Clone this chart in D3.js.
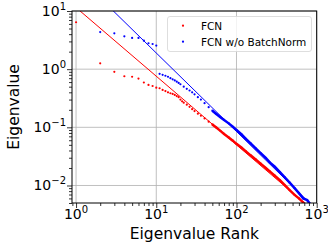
<!DOCTYPE html>
<html>
<head>
<meta charset="utf-8">
<script src="https://cdn.jsdelivr.net/npm/d3@7"></script>
<style>
  body { margin: 0; background: #fff; }
  text { font-family: "DejaVu Sans", sans-serif; fill: #000; }
</style>
</head>
<body>
<div class="canvas"></div>
<script>
// eigenvalue spectra (rank -> eigenvalue)
const fcnRank = [1, 2, 3, 4, 5, 6, 7, 8, 9, 10, 11, 12, 13, 14, 15, 16, 17, 18, 19, 20,
  21, 22, 24, 26, 28, 30, 33, 36, 40, 45, 50, 56, 63, 70, 80, 90, 100, 115, 130, 150,
  175, 200, 230, 260, 300, 350, 400, 460, 530, 600, 680, 760, 850];
const fcnValue = [6.4, 1.26, 0.9, 0.755, 0.74, 0.69, 0.59, 0.535, 0.514, 0.48, 0.47, 0.44, 0.42, 0.4, 0.385, 0.375, 0.36, 0.345, 0.33, 0.3,
  0.28, 0.265, 0.245, 0.225, 0.205, 0.19, 0.172, 0.158, 0.142, 0.125, 0.112, 0.099, 0.087, 0.077, 0.067, 0.059, 0.052, 0.045, 0.039, 0.033,
  0.0278, 0.0238, 0.0202, 0.0175, 0.0148, 0.0122, 0.0101, 0.0083, 0.0069, 0.006, 0.0051, 0.0042, 0.0034];

const noBnRank = [1, 2, 3, 4, 5, 6, 7, 8, 9, 10, 11, 12, 13, 14, 15, 16, 17, 18, 19, 20,
  22, 24, 26, 28, 30, 33, 36, 40, 45, 50, 56, 63, 70, 80, 90, 100, 115, 130, 150,
  175, 200, 230, 260, 300, 350, 400, 460, 530, 600, 680, 760, 850];
const noBnValue = [18, 4.35, 4.14, 3.67, 3.44, 3.44, 3.09, 2.79, 2.71, 2.54, 0.83, 0.8, 0.77, 0.74, 0.7, 0.67, 0.64, 0.61, 0.58, 0.55,
  0.5, 0.46, 0.43, 0.4, 0.37, 0.33, 0.3, 0.26, 0.222, 0.193, 0.17, 0.149, 0.134, 0.117, 0.102, 0.09, 0.076, 0.064, 0.053,
  0.043, 0.036, 0.03, 0.025, 0.021, 0.0168, 0.0138, 0.0112, 0.009, 0.0074, 0.006, 0.0056, 0.0046];

// power-law fit lines, given by their end points
const fitRank = [1, 1000];
const fcnFit = [11.46, 0.0033];
const noBnFit = [42.4, 0.0038];

const xTickValues = [1, 10, 100, 1000];
const yTickValues = [0.01, 0.1, 1, 10];
const seriesNames = ['FCN', 'FCN w/o BatchNorm'];
const seriesColors = ['#ff0000', '#0000ff'];

const dims = { width: 328, height: 248 };
const plot = { left: 72, top: 11, right: 316.7, bottom: 203 };

const svg = d3
  .select('.canvas')
  .append('svg')
  .attr('width', dims.width)
  .attr('height', dims.height);

const x = d3.scaleLog().domain([0.89, 1000]).range([plot.left, plot.right]);
const y = d3.scaleLog().domain([0.005, 10]).range([plot.bottom, plot.top]);

// minor ticks for each decade
const minorTicks = (lo, hi) => {
  const out = [];
  for (let e = -4; e <= 4; e++) {
    for (let m = 2; m <= 9; m++) {
      const v = m * Math.pow(10, e);
      if (v >= lo && v <= hi) out.push(v);
    }
  }
  return out;
};

svg.append('clipPath').attr('id', 'clip')
  .append('rect')
  .attr('x', plot.left).attr('y', plot.top)
  .attr('width', plot.right - plot.left).attr('height', plot.bottom - plot.top);

// grid
const grid = svg.append('g');
grid.selectAll('.gx').data(xTickValues).enter().append('line')
  .attr('x1', d => x(d)).attr('x2', d => x(d))
  .attr('y1', plot.top).attr('y2', plot.bottom)
  .attr('stroke', '#b0b0b0').attr('stroke-width', 0.8);
grid.selectAll('.gy').data(yTickValues).enter().append('line')
  .attr('y1', d => y(d)).attr('y2', d => y(d))
  .attr('x1', plot.left).attr('x2', plot.right)
  .attr('stroke', '#b0b0b0').attr('stroke-width', 0.8);

const graph = svg.append('g').attr('clip-path', 'url(#clip)');

const line = d3.line().x(d => x(d[0])).y(d => y(d[1]));

const series = [
  { rank: fcnRank, value: fcnValue, fit: fcnFit, color: seriesColors[0] },
  { rank: noBnRank, value: noBnValue, fit: noBnFit, color: seriesColors[1] }
];

series.forEach(s => {
  const pts = s.rank.map((r, i) => [r, s.value[i]]);
  // fit line
  graph.append('path')
    .attr('d', line(fitRank.map((r, i) => [r, s.fit[i]])))
    .attr('fill', 'none').attr('stroke', s.color).attr('stroke-width', 1);
  // dense tail of the spectrum, where the dots merge into a band
  graph.append('path')
    .attr('d', line(pts.filter(p => p[0] >= 50)))
    .attr('fill', 'none').attr('stroke', s.color).attr('stroke-width', 2.5);
  graph.selectAll(null).data(pts).enter().append('circle')
    .attr('cx', d => x(d[0])).attr('cy', d => y(d[1]))
    .attr('r', 1.1).attr('fill', s.color);
});

// axes
const xAxis = d3.axisBottom(x).tickValues(xTickValues).tickSize(5).tickFormat('');
const xMinor = d3.axisBottom(x).tickValues(minorTicks(0.89, 1000)).tickSize(3).tickFormat('');
const yAxis = d3.axisLeft(y).tickValues(yTickValues).tickSize(5).tickFormat('');
const yMinor = d3.axisLeft(y).tickValues(minorTicks(0.005, 10)).tickSize(3).tickFormat('');

[[xAxis, 'b'], [xMinor, 'b'], [yAxis, 'l'], [yMinor, 'l']].forEach(([ax, side]) => {
  const g = svg.append('g')
    .attr('transform', side === 'b' ? `translate(0,${plot.bottom})` : `translate(${plot.left},0)`)
    .call(ax);
  g.select('.domain').remove();
  g.selectAll('line').attr('stroke', '#000').attr('stroke-width', 0.8);
});

// spines
svg.append('rect')
  .attr('x', plot.left).attr('y', plot.top)
  .attr('width', plot.right - plot.left).attr('height', plot.bottom - plot.top)
  .attr('fill', 'none').attr('stroke', '#000').attr('stroke-width', 1);

// tick labels as 10^n
const expLabel = (sel, d) => {
  const e = Math.round(Math.log10(d));
  sel.append('tspan').text('10');
  sel.append('tspan').attr('dy', -6).attr('font-size', 10).text(e < 0 ? '\u2212' + (-e) : e);
};

svg.selectAll('.xl').data(xTickValues).enter().append('text')
  .attr('x', d => x(d)).attr('y', 219)
  .attr('text-anchor', 'middle').attr('font-size', 14)
  .each(function(d) { expLabel(d3.select(this), d); });

svg.selectAll('.yl').data(yTickValues).enter().append('text')
  .attr('x', 66).attr('y', d => y(d) + 5)
  .attr('text-anchor', 'end').attr('font-size', 14)
  .each(function(d) { expLabel(d3.select(this), d); });

// axis titles
svg.append('text')
  .attr('x', (plot.left + plot.right) / 2).attr('y', 239)
  .attr('text-anchor', 'middle').attr('font-size', 15.5)
  .text('Eigenvalue Rank');
svg.append('text')
  .attr('transform', `translate(19,${(plot.top + plot.bottom) / 2}) rotate(-90)`)
  .attr('text-anchor', 'middle').attr('font-size', 15.5)
  .text('Eigenvalue');

// legend
const legend = svg.append('g');
legend.append('rect')
  .attr('x', 167.5).attr('y', 16.5).attr('width', 144).attr('height', 35)
  .attr('rx', 2.5).attr('fill', '#fff').attr('fill-opacity', 0.8)
  .attr('stroke', '#d6d6d6').attr('stroke-width', 0.8);
seriesNames.forEach((name, i) => {
  legend.append('circle')
    .attr('cx', 183).attr('cy', 25.7 + i * 16).attr('r', 1.1)
    .attr('fill', seriesColors[i]);
  legend.append('text')
    .attr('x', 201).attr('y', 29.5 + i * 16)
    .attr('font-size', 10.5)
    .text(name);
});
</script>
</body>
</html>
